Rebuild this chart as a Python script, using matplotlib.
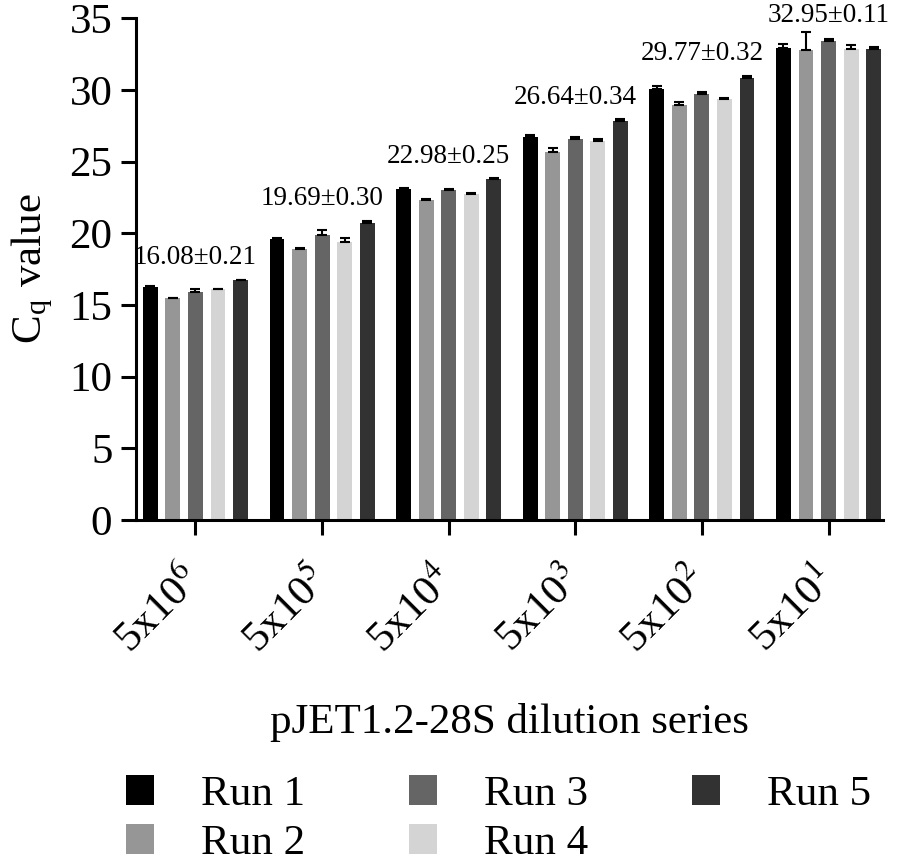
import numpy as np
import matplotlib
matplotlib.use("Agg")
import matplotlib.pyplot as plt

plt.rcParams['font.family'] = ['Liberation Serif', 'DejaVu Serif']
plt.rcParams['mathtext.fontset'] = 'stix'

# Data
dilutions = ['5x10$^{6}$', '5x10$^{5}$', '5x10$^{4}$', '5x10$^{3}$', '5x10$^{2}$', '5x10$^{1}$']
runs = ['Run 1', 'Run 2', 'Run 3', 'Run 4', 'Run 5']

run1 = [16.23, 19.60, 23.08, 26.73, 30.05, 32.93]
run2 = [15.46, 18.92, 22.34, 25.69, 28.97, 32.78]
run3 = [15.88, 19.85, 23.03, 26.54, 29.72, 33.38]
run4 = [16.10, 19.41, 22.73, 26.43, 29.33, 32.85]
run5 = [16.71, 20.71, 23.80, 27.85, 30.80, 32.83]

err1 = [0.10, 0.07, 0.05, 0.12, 0.20, 0.25]
err2 = [0.05, 0.07, 0.04, 0.28, 0.18, 1.25]
err3 = [0.22, 0.37, 0.05, 0.15, 0.14, 0.14]
err4 = [0.00, 0.24, 0.10, 0.13, 0.07, 0.28]
err5 = [0.05, 0.14, 0.03, 0.10, 0.16, 0.16]

group_means = [16.08, 19.69, 22.98, 26.64, 29.77, 32.95]
group_sds = [0.21, 0.30, 0.25, 0.34, 0.32, 0.11]

colors = ['#000000', '#969696', '#656565', '#d4d4d4', '#323232']

values = [run1, run2, run3, run4, run5]
errors = [err1, err2, err3, err4, err5]

fig = plt.figure(figsize=(8.98, 8.66), dpi=100)
ax = fig.add_axes([0.1514, 0.3995, 0.8319, 0.5795])

x = np.arange(len(dilutions))
pitch = 0.178
width = 0.118
for i, (vals, errs) in enumerate(zip(values, errors)):
    pos = x + (i - 2) * pitch
    ax.bar(pos, vals, width, color=colors[i], label=runs[i], zorder=2)
    ax.errorbar(pos, vals, yerr=[np.zeros(len(errs)), errs], fmt='none',
                ecolor='black', elinewidth=1.5, capsize=3.5, capthick=1.5, zorder=3)

# mean +/- sd labels over each group
tops = np.max(np.array(values) + np.array(errors), axis=0)
for xi, top, m, s in zip(x, tops, group_means, group_sds):
    ax.text(xi, min(top + 1.55, 35.2), f'{m:.2f}\u00b1{s:.2f}', ha='center',
            va='center', fontsize=19.5, clip_on=False)

ax.set_xlim(-0.47, 5.43)
ax.set_ylim(0, 35)
ax.set_yticks(range(0, 36, 5))
ax.set_xticks(x)
ax.set_xticklabels(dilutions, rotation=45, ha='right', va='center',
                   rotation_mode='anchor')

for side in ['top', 'right']:
    ax.spines[side].set_visible(False)
for side in ['left', 'bottom']:
    ax.spines[side].set_linewidth(2.2)
ax.tick_params(axis='both', width=2.2, length=11, labelsize=31, pad=6)
ax.tick_params(axis='x', pad=28)

ax.set_ylabel('C$_\\mathregular{q}$ value', fontsize=31, labelpad=10)
ax.set_xlabel('pJET1.2-28S dilution series', fontsize=31, labelpad=30)

fig.legend(loc='center', bbox_to_anchor=(0.555, 0.054), ncol=3, frameon=False,
           fontsize=31, handlelength=0.65, handleheight=0.7, handletextpad=1.1,
           columnspacing=2.4, labelspacing=0.22, borderpad=0)

fig.savefig('out.png', dpi=100)
